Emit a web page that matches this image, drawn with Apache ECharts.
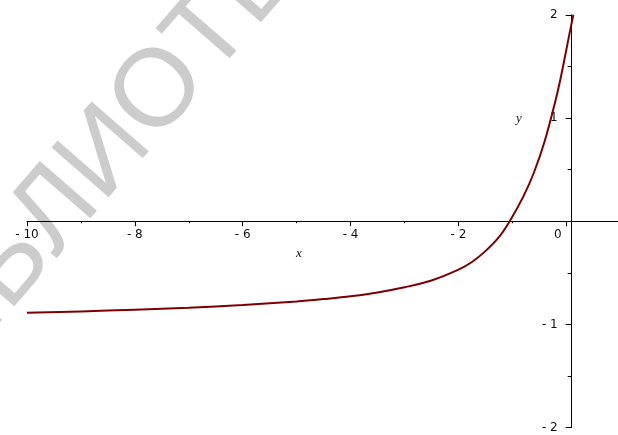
<!DOCTYPE html>
<html>
<head>
<meta charset="utf-8">
<script src="https://cdn.jsdelivr.net/npm/echarts@6/dist/echarts.min.js"></script>
<style>
  html, body { margin: 0; padding: 0; background: #ffffff; overflow: hidden; }
  /* the plot runs past the right edge so the axis line reaches the border */
  #chart { width: 681px; height: 435px; }
</style>
</head>
<body>
<div id="chart"></div>
<script>
// Sampled points of the plotted curve
const xValues = [-10, -9, -8, -7, -6, -5, -4.5, -4, -3.5, -3, -2.5, -2, -1.75, -1.5, -1.25, -1.05, -0.8, -0.6, -0.4, -0.2, -0.1, 0, 0.06, 0.13];
const yValues = [-0.887, -0.874, -0.858, -0.838, -0.811, -0.778, -0.755, -0.728, -0.690, -0.640, -0.575, -0.470, -0.395, -0.290, -0.155, 0, 0.236, 0.472, 0.777, 1.17, 1.40, 1.66, 1.82, 2.0];

// Axis ranges and tick spacing
const xMin = -10, xMax = 2, xStep = 2;
const yMin = -2, yMax = 2, yStep = 1;

const curve = xValues.map((x, i) => [x, yValues[i]]);

const chart = echarts.init(document.getElementById('chart'), null, { renderer: 'canvas' });

const labelFont = { fontFamily: 'DejaVu Sans', fontSize: 12, color: '#111111' };
const wmSize = 110;
const wmFont = 'normal ' + wmSize + 'px "Liberation Sans"';

// Axes cross at the origin; shift each axis from the grid edge onto zero
const gridLeft = 27, gridTop = 14.8, gridBottom = 7.4, gridRight = 0.4;
const plotW = 681 - gridLeft - gridRight;
const plotH = 435 - gridTop - gridBottom;
const xAxisOffset = -plotH * (0 - yMin) / (yMax - yMin);
const yAxisOffset = -plotW * (0 - xMin) / (xMax - xMin);

const fmtX = v => v === 0 ? '{z|0}' : (v < 0 ? '- ' + Math.abs(v) : String(v));
const fmtY = v => v === 0 ? '' : (v < 0 ? '- ' + Math.abs(v) : String(v));

chart.setOption({
  animation: false,
  backgroundColor: '#ffffff',
  grid: { left: gridLeft, right: gridRight, top: gridTop, bottom: gridBottom, containLabel: false },
  graphic: [
    {
      type: 'group',
      x: 160, y: 92,
      rotation: 49 * Math.PI / 180,
      z: -10,
      silent: true,
      children: [
        { type: 'text', style: { text: 'БИБЛИ', x: -0.39 * wmSize, y: 0, align: 'right', verticalAlign: 'middle', font: wmFont, fill: '#cccccc' } },
        { type: 'text', style: { text: 'ОТЕКА', x: -0.39 * wmSize, y: 0, align: 'left', verticalAlign: 'middle', font: wmFont, fill: '#cccccc' } }
      ]
    },
    { type: 'text', x: 299, y: 254, style: { text: 'x', align: 'center', verticalAlign: 'middle', font: 'italic 13px "Liberation Serif"', fill: '#111111' } },
    { type: 'text', x: 519, y: 119, style: { text: 'y', align: 'center', verticalAlign: 'middle', font: 'italic 13px "Liberation Serif"', fill: '#111111' } }
  ],
  xAxis: {
    type: 'value',
    position: 'bottom',
    offset: xAxisOffset,
    min: xMin, max: xMax, interval: xStep,
    axisLine: { onZero: false, lineStyle: { color: '#000000', width: 1 } },
    axisTick: { show: true, inside: false, length: 5, lineStyle: { color: '#000000' } },
    minorTick: { show: true, splitNumber: 2, length: 2, lineStyle: { color: '#000000' } },
    splitLine: { show: false },
    axisLabel: {
      ...labelFont,
      margin: 8,
      formatter: fmtX,
      rich: { z: { ...labelFont, padding: [0, 17, 4, 0] } }
    }
  },
  yAxis: {
    type: 'value',
    position: 'left',
    offset: yAxisOffset,
    min: yMin, max: yMax, interval: yStep,
    axisLine: { onZero: false, lineStyle: { color: '#000000', width: 1 } },
    axisTick: { show: true, inside: false, length: 6, lineStyle: { color: '#000000' } },
    minorTick: { show: true, splitNumber: 2, length: 4, lineStyle: { color: '#000000' } },
    splitLine: { show: false },
    axisLabel: {
      ...labelFont,
      margin: 14,
      formatter: fmtY
    }
  },
  series: [{
    type: 'line',
    data: curve,
    smooth: 0.35,
    showSymbol: false,
    clip: true,
    lineStyle: { color: '#7d0000', width: 2 },
    z: 5
  }]
});
</script>
</body>
</html>
